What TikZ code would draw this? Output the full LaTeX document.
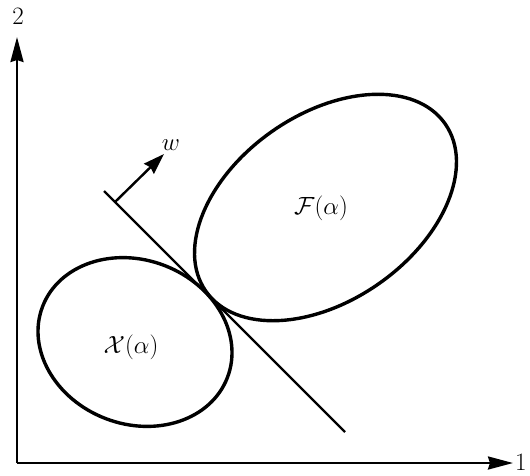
\documentclass[tikz,border=0pt]{standalone}
\usetikzlibrary{arrows.meta}
\begin{document}
\begin{tikzpicture}[x=1pt,y=-1pt,
  axis/.style={line width=2.4pt,-{Stealth[length=25pt,width=13pt,inset=2pt]}},
  oval/.style={line width=3.4pt},
  thinline/.style={line width=2.2pt},
  warrow/.style={line width=2.4pt,-{Stealth[length=21pt,width=14pt,inset=2pt]}},
  lbl/.style={inner sep=0pt,font=\fontsize{25}{30}\selectfont}]
\useasboundingbox (0,0) rectangle (530,475);
% axes
\coordinate (O) at (17,463);
\coordinate (Ytip) at (17,37);
\coordinate (Xtip) at (513,463);
\draw[axis] (O) -- (Ytip);
\draw[axis] (O) -- (Xtip);
\node[lbl] (l2) at (18,16) {2};
\node[lbl,anchor=west] (l1) at (515,462) {1};
% ellipses
\begin{scope}[shift={(135,342)},rotate=-21]
  \draw[oval] (0,0) ellipse [x radius=99pt, y radius=82pt];
\end{scope}
\begin{scope}[shift={(325.5,207.5)},rotate=35]
  \draw[oval] (0,0) ellipse [x radius=146pt, y radius=93pt];
\end{scope}
% separating line
\coordinate (La) at (104,191);
\coordinate (Lb) at (345,432);
\draw[thinline] (La) -- (Lb);
% normal vector w
\coordinate (Wa) at (115,202);
\coordinate (Wb) at (164,154);
\draw[warrow] (Wa) -- (Wb);
\node[lbl] (w) at (171,145) {$w$};
% labels
\node[lbl] (F) at (321,208) {$\mathcal{F}(\alpha)$};
\node[lbl] (X) at (131,347) {$\mathcal{X}(\alpha)$};
\end{tikzpicture}
\end{document}
